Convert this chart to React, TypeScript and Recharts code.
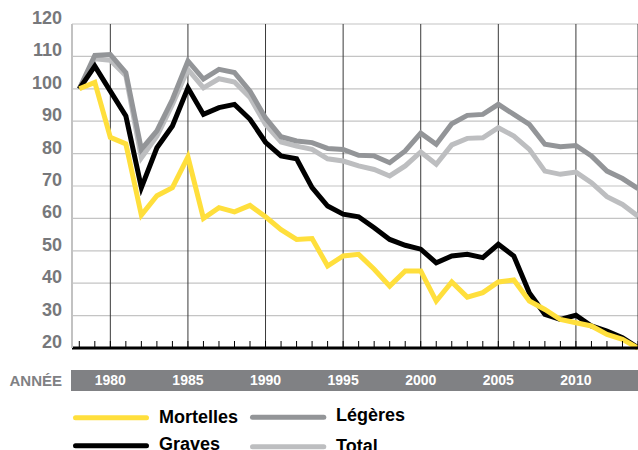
import React from "react";
import { LineChart, Line, XAxis, YAxis, CartesianGrid } from "recharts";

const years = [
  1978, 1979, 1980, 1981, 1982, 1983, 1984, 1985, 1986, 1987, 1988, 1989,
  1990, 1991, 1992, 1993, 1994, 1995, 1996, 1997, 1998, 1999, 2000, 2001,
  2002, 2003, 2004, 2005, 2006, 2007, 2008, 2009, 2010, 2011, 2012, 2013, 2014,
];

const mortelles = [
  100, 102, 85, 83, 61, 67, 69.5, 79, 60, 63.3, 62, 64,
  60.5, 56.5, 53.5, 53.8, 45.3, 48.4, 48.9, 44.3, 39.1, 43.8, 43.8, 34.5,
  40.4, 35.7, 37.1, 40.4, 41, 34.5, 31.9, 28.8, 27.8, 26.8, 24.2, 22.7, 20,
];

const graves = [
  100, 107, 99.3, 91.6, 69.5, 81.8, 88.5, 100.3, 92.1, 94.2, 95.2, 90.6,
  83.5, 79.3, 78.4, 69.5, 63.8, 61.3, 60.5, 57.1, 53.5, 51.7, 50.5, 46.3,
  48.4, 48.9, 47.9, 52, 48.4, 37, 30.4, 28.8, 30.1, 26.8, 25.2, 23.2, 20.1,
];

const legeres = [
  100, 110.3, 110.6, 105, 81.3, 87, 96.7, 108.6, 103, 106, 105, 99.3,
  91, 85.2, 83.9, 83.4, 81.6, 81.3, 79.5, 79.3, 77.2, 80.8, 86.3, 82.9,
  89.2, 91.8, 92.1, 95.2, 92.1, 89, 82.9, 82.1, 82.5, 79.3, 74.6, 72.3, 69.2,
];

const total = [
  100, 109.3, 108.8, 104, 78.7, 85.4, 95.2, 106, 100.3, 103.1, 102.1, 97.3,
  89, 83.6, 82.3, 81.3, 78.4, 77.7, 76.2, 75.1, 73.1, 76.2, 80.5, 76.7,
  82.7, 84.7, 84.9, 88, 85.4, 81.3, 74.6, 73.6, 74.3, 71, 66.7, 64.3, 60.7,
];

const yTicks = [20, 30, 40, 50, 60, 70, 80, 90, 100, 110, 120];
const gridYears = [1980, 1985, 1990, 1995, 2000, 2005, 2010];
const xAxisTitle = "ANNÉE";
const seriesNames = { mortelles: "Mortelles", graves: "Graves", legeres: "Légères", total: "Total" };

const data = years.map((y, i) => ({
  year: y,
  mortelles: mortelles[i],
  graves: graves[i],
  legeres: legeres[i],
  total: total[i],
}));

const FONT = '"Liberation Sans", Arial, sans-serif';
const C_YELLOW = "#FFDF3C";
const C_BLACK = "#000000";
const C_DGRAY = "#939598";
const C_LGRAY = "#BDBEC0";

const YTick = (props: any) => {
  const { x, y, payload } = props;
  return (
    <text x={x - 10} y={y} textAnchor="end" fontFamily={FONT} fontWeight="bold" fontSize={18} fill="#77787B">
      {payload.value}
    </text>
  );
};

const XTick = (props: any) => {
  const { x, y, payload } = props;
  const v = payload.value;
  return (
    <g>
      <line x1={x} x2={x} y1={y - 7} y2={y} stroke="#000" strokeWidth={1} />
      {v % 5 === 0 ? (
        <text x={x} y={y + 37} textAnchor="middle" fontFamily={FONT} fontWeight="bold" fontSize={14} fill="#FFFFFF">
          {v}
        </text>
      ) : null}
    </g>
  );
};

export default function App() {
  return (
    <div style={{ position: "absolute", left: 0, top: 0, width: 638, height: 450, overflow: "hidden", background: "#fff" }}>
      <svg width={638} height={450} style={{ position: "absolute", left: 0, top: 0 }}>
        <rect x={71} y={370} width={567} height={21} fill="#808184" />
        <text x={62} y={385.5} textAnchor="end" fontFamily={FONT} fontWeight="bold" fontSize={15} fill="#808184">
          {xAxisTitle}
        </text>
        <line x1={75.5} x2={146.5} y1={417.7} y2={417.7} stroke={C_YELLOW} strokeWidth={5} strokeLinecap="round" />
        <line x1={75.5} x2={146.5} y1={445.8} y2={445.8} stroke={C_BLACK} strokeWidth={5} strokeLinecap="round" />
        <line x1={252.5} x2={323.8} y1={417.3} y2={417.3} stroke={C_DGRAY} strokeWidth={5} strokeLinecap="round" />
        <line x1={252.5} x2={323.8} y1={446.7} y2={446.7} stroke={C_LGRAY} strokeWidth={5} strokeLinecap="round" />
        <text x={159} y={423} fontFamily={FONT} fontWeight="bold" fontSize={18} fill="#000">{seriesNames.mortelles}</text>
        <text x={159} y={450} fontFamily={FONT} fontWeight="bold" fontSize={18} fill="#000">{seriesNames.graves}</text>
        <text x={336} y={421} fontFamily={FONT} fontWeight="bold" fontSize={18} fill="#000">{seriesNames.legeres}</text>
        <text x={336} y={452} fontFamily={FONT} fontWeight="bold" fontSize={18} fill="#000">{seriesNames.total}</text>
      </svg>
      <div style={{ position: "absolute", left: 0, top: 0 }}>
        <LineChart width={638} height={450} data={data} margin={{ top: 24, right: 0, bottom: 62, left: 0 }}>
          <CartesianGrid horizontal={true} vertical={false} stroke="#C4C4C4" strokeWidth={1.2} />
          <CartesianGrid horizontal={false} vertical={true} xAxisId="grid" stroke="#3A3A3A" strokeWidth={1} />
          <XAxis
            xAxisId="grid"
            dataKey="year"
            type="number"
            domain={[1977.53, 2014]}
            ticks={gridYears}
            hide
          />
          <XAxis
            dataKey="year"
            type="number"
            domain={[1977.53, 2014]}
            ticks={years}
            interval={0}
            height={40}
            tickSize={0}
            tickMargin={0}
            tickLine={false}
            axisLine={{ stroke: "#000", strokeWidth: 3 }}
            tick={<XTick />}
          />
          <YAxis
            type="number"
            domain={[20, 120]}
            ticks={yTicks}
            interval={0}
            width={72}
            tickSize={0}
            tickMargin={0}
            tickLine={false}
            axisLine={{ stroke: "#C2C2C2", strokeWidth: 2 }}
            tick={<YTick />}
          />
          <Line dataKey="total" stroke={C_LGRAY} strokeWidth={5} dot={false} activeDot={false} isAnimationActive={false} />
          <Line dataKey="legeres" stroke={C_DGRAY} strokeWidth={5} dot={false} activeDot={false} isAnimationActive={false} />
          <Line dataKey="graves" stroke={C_BLACK} strokeWidth={5} dot={false} activeDot={false} isAnimationActive={false} />
          <Line dataKey="mortelles" stroke={C_YELLOW} strokeWidth={5} dot={false} activeDot={false} isAnimationActive={false} />
        </LineChart>
      </div>
    </div>
  );
}
